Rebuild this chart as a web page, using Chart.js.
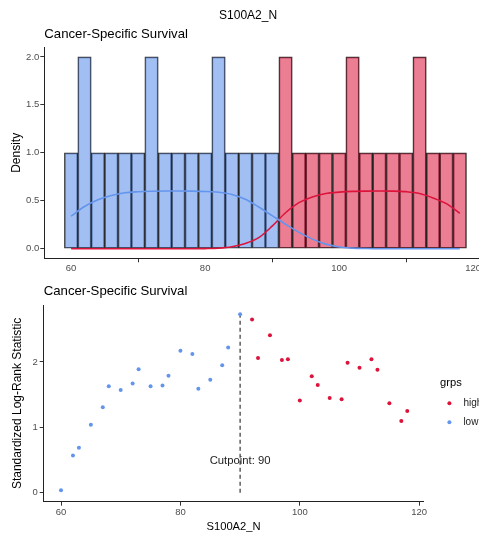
<!DOCTYPE html>
<html>
<head>
<meta charset="utf-8">
<script src="https://cdn.jsdelivr.net/npm/chart.js@4.4.1/dist/chart.umd.min.js"></script>
<style>
  html, body { margin: 0; padding: 0; background: #fff; overflow: hidden; }
  #wrap { position: relative; width: 479px; height: 537px; overflow: hidden; }
  .box { position: absolute; left: 0; width: 500px; }
  #topBox { top: 0; height: 280px; }
  #botBox { top: 270px; height: 267px; }
</style>
</head>
<body>
<div id="wrap">
  <div class="box" id="topBox"><canvas id="histChart"></canvas></div>
  <div class="box" id="botBox"><canvas id="statChart"></canvas></div>
</div>
<script>
// histogram bins (centre of each 2-wide bin) and densities
const lowBins = [60, 62, 64, 66, 68, 70, 72, 74, 76, 78, 80, 82, 84, 86, 88, 90];
const lowDensity = [1, 2, 1, 1, 1, 1, 2, 1, 1, 1, 1, 2, 1, 1, 1, 1];
const highBins = [92, 94, 96, 98, 100, 102, 104, 106, 108, 110, 112, 114, 116, 118];
const highDensity = [2, 1, 1, 1, 1, 2, 1, 1, 1, 1, 2, 1, 1, 1];

// density curves
const curveX = [60, 62, 64, 66, 68, 70, 72, 74, 76, 78, 80, 82, 84, 86, 88, 90, 92, 94, 96, 98, 100, 102, 104, 106, 108, 110, 112, 114, 116, 118];
const lowCurve = [0.34, 0.44, 0.51, 0.555, 0.583, 0.594, 0.6, 0.602, 0.602, 0.601, 0.597, 0.588, 0.565, 0.515, 0.435, 0.345, 0.255, 0.17, 0.1, 0.048, 0.018, 0.006, 0.002, 0, 0, 0, 0, 0, 0, 0];
const highCurve = [0, 0, 0, 0, 0, 0, 0, 0, 0, 0, 0.001, 0.005, 0.02, 0.055, 0.115, 0.235, 0.375, 0.48, 0.54, 0.576, 0.59, 0.598, 0.601, 0.602, 0.601, 0.595, 0.576, 0.53, 0.47, 0.37];

// standardized log-rank statistic per cutpoint
const lowCut = [60, 62, 63, 65, 67, 68, 70, 72, 73, 75, 77, 78, 80, 82, 83, 85, 87, 88, 90];
const lowStat = [0.04, 0.57, 0.69, 1.04, 1.31, 1.63, 1.57, 1.67, 1.89, 1.63, 1.64, 1.79, 2.17, 2.12, 1.59, 1.73, 1.95, 2.22, 2.73];
const highCut = [92, 93, 95, 97, 98, 100, 102, 103, 105, 107, 108, 110, 112, 113, 115, 117, 118];
const highStat = [2.65, 2.06, 2.41, 2.03, 2.04, 1.41, 1.78, 1.65, 1.45, 1.43, 1.99, 1.91, 2.04, 1.88, 1.37, 1.10, 1.25];
const cutpoint = 90;
const cutLabelY = 0.49;

const topXTicks = [60, 80, 100, 120];
const topYTicks = [0, 0.5, 1, 1.5, 2];
const botXTicks = [60, 80, 100, 120];
const botYTicks = [0, 1, 2];

const BLUE = 'rgb(100,149,237)';
const RED = 'rgb(220,20,60)';

Chart.defaults.font.family = '"Liberation Sans", Arial, sans-serif';
Chart.defaults.color = '#4d4d4d';

const tickFont = { size: 9.5 };
function axisGrid() {
  return { drawOnChartArea: false, drawTicks: true, tickLength: 4, color: '#333', lineWidth: 1 };
}
const axisBorder = { display: true, color: '#222', width: 1 };

const pts = (xs, ys) => xs.map((x, i) => ({ x: x, y: ys[i] }));

new Chart(document.getElementById('histChart'), {
  type: 'bar',
  data: {
    datasets: [
      {
        type: 'line', label: 'low', data: pts(curveX, lowCurve),
        borderColor: BLUE, borderWidth: 1.6, pointRadius: 0, fill: false,
        cubicInterpolationMode: 'monotone'
      },
      {
        type: 'line', label: 'high', data: pts(curveX, highCurve),
        borderColor: RED, borderWidth: 1.6, pointRadius: 0, fill: false,
        cubicInterpolationMode: 'monotone'
      },
      {
        label: 'low', data: pts(lowBins, lowDensity),
        backgroundColor: 'rgba(100,149,237,0.6)', borderColor: 'rgba(0,0,0,0.8)',
        borderWidth: 1, borderSkipped: false, grouped: false,
        barPercentage: 1, categoryPercentage: 1
      },
      {
        label: 'high', data: pts(highBins, highDensity),
        backgroundColor: 'rgba(220,20,60,0.55)', borderColor: 'rgba(0,0,0,0.8)',
        borderWidth: 1, borderSkipped: false, grouped: false,
        barPercentage: 1, categoryPercentage: 1
      }
    ]
  },
  options: {
    responsive: true,
    maintainAspectRatio: false,
    animation: false,
    layout: { padding: { left: 9.5, top: 8.3, right: 13.4, bottom: 0 } },
    plugins: {
      legend: { display: false },
      tooltip: { enabled: false },
      title: {
        display: true, text: 'S100A2_N', color: '#000',
        font: { size: 12, weight: 'normal' }, padding: { top: 0, bottom: 0 }
      },
      subtitle: {
        display: true, text: 'Cancer-Specific Survival', align: 'start', fullSize: false,
        color: '#000', font: { size: 13.2 }, padding: { top: 3.4, bottom: 5.4 }
      }
    },
    scales: {
      x: {
        type: 'linear', min: 56, max: 122, offset: false,
        afterBuildTicks: s => { s.ticks = topXTicks.map(v => ({ value: v })); },
        afterFit: s => { s.height = 21.7; },
        ticks: { font: tickFont, padding: 0, maxRotation: 0, autoSkip: false },
        grid: axisGrid(),
        border: axisBorder
      },
      y: {
        min: -0.1, max: 2.1,
        afterBuildTicks: s => { s.ticks = topYTicks.map(v => ({ value: v })); },
        afterFit: s => { s.width = 34.8; },
        ticks: { font: tickFont, padding: 1, callback: v => v.toFixed(1) },
        grid: axisGrid(),
        border: axisBorder,
        title: { display: true, text: 'Density', color: '#000', font: { size: 12 }, padding: 0 }
      }
    }
  }
});

const statExtras = {
  id: 'statExtras',
  afterDatasetsDraw(chart) {
    const { ctx, chartArea, scales } = chart;
    ctx.save();
    // cutpoint annotation
    ctx.fillStyle = '#222';
    ctx.font = '11.3px "Liberation Sans", Arial, sans-serif';
    ctx.textAlign = 'center';
    ctx.textBaseline = 'middle';
    ctx.fillText('Cutpoint: ' + cutpoint, scales.x.getPixelForValue(cutpoint), scales.y.getPixelForValue(cutLabelY));
    // legend
    const midY = (chartArea.top + chartArea.bottom) / 2;
    const lx = chartArea.right;
    ctx.textAlign = 'left';
    ctx.fillStyle = '#000';
    ctx.font = '11.2px "Liberation Sans", Arial, sans-serif';
    ctx.fillText('grps', lx + 16.6, midY - 20);
    const items = [['high', RED, 0], ['low', BLUE, 19]];
    ctx.font = '10px "Liberation Sans", Arial, sans-serif';
    items.forEach(([name, col, dy]) => {
      ctx.fillStyle = col;
      ctx.beginPath();
      ctx.arc(lx + 26, midY + dy, 2, 0, Math.PI * 2);
      ctx.fill();
      ctx.fillStyle = '#222';
      ctx.fillText(name, lx + 40, midY + dy);
    });
    ctx.restore();
  }
};

const statMax = Math.max(...lowStat, ...highStat);

new Chart(document.getElementById('statChart'), {
  type: 'scatter',
  data: {
    datasets: [
      {
        label: 'high', data: pts(highCut, highStat),
        backgroundColor: RED, pointRadius: 2, pointBorderWidth: 0
      },
      {
        label: 'low', data: pts(lowCut, lowStat),
        backgroundColor: BLUE, pointRadius: 2, pointBorderWidth: 0
      },
      {
        type: 'line', label: 'cutpoint', data: [{ x: cutpoint, y: 0 }, { x: cutpoint, y: statMax }],
        borderColor: '#444', borderWidth: 1.3, borderDash: [4, 3], pointRadius: 0, fill: false
      }
    ]
  },
  options: {
    responsive: true,
    maintainAspectRatio: false,
    animation: false,
    layout: { padding: { left: 10.1, top: 0, right: 76.6, bottom: 3.6 } },
    plugins: {
      legend: { display: false },
      tooltip: { enabled: false },
      title: {
        display: true, text: 'Cancer-Specific Survival', align: 'start', fullSize: false,
        color: '#000', font: { size: 13.2, weight: 'normal' }, padding: { top: 13.8, bottom: 5.4 }
      }
    },
    scales: {
      x: {
        type: 'linear', min: 57.1, max: 120.7,
        afterBuildTicks: s => { s.ticks = botXTicks.map(v => ({ value: v })); },
        afterFit: s => { s.height = 31.7; },
        ticks: { font: tickFont, padding: 1, maxRotation: 0, autoSkip: false },
        grid: axisGrid(),
        border: axisBorder,
        title: { display: true, text: 'S100A2_N', color: '#000', font: { size: 11.2 }, padding: 0 }
      },
      y: {
        min: -0.135, max: 2.87,
        afterBuildTicks: s => { s.ticks = botYTicks.map(v => ({ value: v })); },
        afterFit: s => { s.width = 33.6; },
        ticks: { font: tickFont, padding: 2 },
        grid: axisGrid(),
        border: axisBorder,
        title: { display: true, text: 'Standardized Log-Rank Statistic', color: '#000', font: { size: 12 }, padding: 0 }
      }
    }
  },
  plugins: [statExtras]
});
</script>
</body>
</html>
